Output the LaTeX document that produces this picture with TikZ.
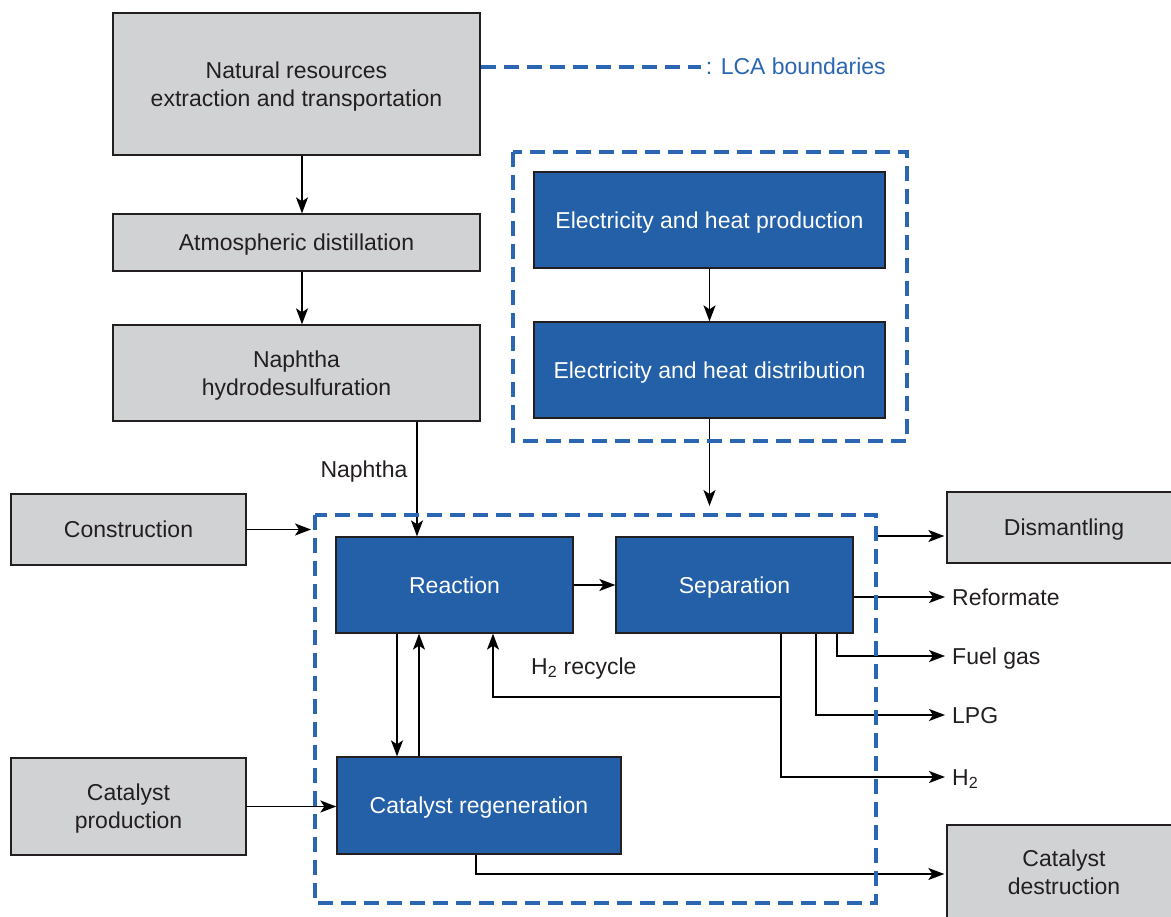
\documentclass[tikz,border=0pt]{standalone}
\usepackage{fontspec}
\setmainfont{Liberation Sans}
\usetikzlibrary{arrows.meta}
\definecolor{grayfill}{HTML}{D1D2D4}
\definecolor{bluefill}{HTML}{2360A8}
\definecolor{lcablue}{HTML}{2B66B2}
\definecolor{txtcol}{HTML}{231F20}
\begin{document}
\begin{tikzpicture}[x=1pt,y=-1pt, font=\fontsize{23}{28}\selectfont,
 graybox/.style={draw=txtcol, line width=1.3pt, fill=grayfill, text=txtcol, align=center, inner sep=0pt, text depth=0pt},
 bluebox/.style={draw=txtcol, line width=1.3pt, fill=bluefill, text=white, align=center, inner sep=0pt, text depth=0pt},
 lca/.style={draw=lcablue, line width=3.8pt, dash pattern=on 15pt off 8pt},
 flow/.style={draw=black, line width=1.6pt, -{Stealth[length=16pt,width=12pt,inset=4pt]}},
 lbl/.style={text=txtcol, inner sep=0pt, text height=20pt, text depth=4pt},
 area/.style={inner sep=0pt, outer sep=0pt}]
\useasboundingbox (0,0) rectangle (1171,917);

% boundary helpers (drawn later)
\node[area, minimum width=394pt, minimum height=289pt] (lca1) at (710,296.5) {};
\node[area, minimum width=561pt, minimum height=388pt] (lca2) at (595.5,709) {};

% boxes
\node[graybox, minimum width=367pt, minimum height=142pt] (nat) at (296.5,84) {Natural resources\\extraction and transportation};
\node[graybox, minimum width=367pt, minimum height=57pt] (atm) at (296.5,242.5) {Atmospheric distillation};
\node[graybox, minimum width=367pt, minimum height=96pt] (nap) at (296.5,373) {Naphtha\\hydrodesulfuration};
\node[bluebox, minimum width=351pt, minimum height=96pt] (ep) at (709.5,220) {Electricity and heat production};
\node[bluebox, minimum width=351pt, minimum height=96pt] (ed) at (709.5,370) {Electricity and heat distribution};
\node[graybox, minimum width=235pt, minimum height=71pt] (con) at (128.5,529.5) {Construction};
\node[bluebox, minimum width=237pt, minimum height=96pt] (rea) at (454.5,585) {Reaction};
\node[bluebox, minimum width=237pt, minimum height=96pt] (sep) at (734.5,585) {Separation};
\node[bluebox, minimum width=284pt, minimum height=97pt] (cr) at (479,805.5) {Catalyst regeneration};
\node[graybox, minimum width=235pt, minimum height=97pt] (cp) at (128.5,806.5) {Catalyst\\production};
\node[graybox, minimum width=234pt, minimum height=71pt] (dis) at (1064,527.5) {Dismantling};
\node[graybox, minimum width=234pt, minimum height=94pt] (cd) at (1064,872) {Catalyst\\destruction};

% labels
\node[lbl] (naptxt) at (364,469) {Naphtha};
\node[lbl, anchor=west] (rectxt) at (531,666) {H\textsubscript{2} recycle};
\node[lbl, anchor=west] (ref) at (952,597) {Reformate};
\node[lbl, anchor=west] (fuel) at (952,656) {Fuel gas};
\node[lbl, anchor=west] (lpg) at (952,715) {LPG};
\node[lbl, anchor=west] (hh) at (952,777) {H\textsubscript{2}};

% connectors
\draw[flow] ([xshift=5.5pt]nat.south) -- ([xshift=5.5pt]atm.north);
\draw[flow] ([xshift=5.5pt]atm.south) -- ([xshift=5.5pt]nap.north);
\draw[flow] ([xshift=120.5pt]nap.south) -- ([xshift=120.5pt]nap.south |- rea.north);
\draw[flow] (ep.south) -- (ed.north);
\draw[flow] (ed.south) -- ([yshift=9pt]ed.south |- lca2.north);
\draw[flow] (con.east) -- ([xshift=-4pt]con.east -| lca2.west);
\draw[flow] (cp.east) -- (cp.east -| cr.west);
\draw[flow] (rea.east) -- (sep.west);
\draw[flow] ([xshift=-57.5pt]rea.south) -- ([xshift=-57.5pt]rea.south |- cr.north);
\draw[flow] ([xshift=-35.5pt]rea.south |- cr.north) -- ([xshift=-35.5pt]rea.south);
\coordinate (rj) at (781,697);
\draw[flow] ([xshift=46.5pt]sep.south) -- (rj) -| ([xshift=38.5pt]rea.south);
\draw[flow] (rj) |- ([xshift=-7pt]hh.west);
\draw[flow] ([xshift=81.5pt]sep.south) |- ([xshift=-7pt]lpg.west);
\draw[flow] ([xshift=102.5pt]sep.south) |- ([xshift=-7pt]fuel.west);
\draw[flow] ([yshift=-12pt]sep.east) -- ([xshift=-7pt]ref.west);
\draw[flow] ([yshift=-8.5pt]dis.west -| lca2.east) -- ([yshift=-8.5pt,xshift=-2pt]dis.west);
\draw[flow] ([xshift=-3pt]cr.south) |- ([yshift=-2pt,xshift=-2pt]cd.west);

% boundaries
\draw[lca] (lca1.north west) rectangle (lca1.south east);
\draw[lca] (lca2.north west) rectangle (lca2.south east);

% legend
\draw[lca] ([yshift=17pt]nat.east) -- ++(220,0) coordinate (legend);
\node[inner sep=0pt, anchor=west, text=lcablue, text height=20pt, text depth=4pt] (legtxt) at ([xshift=5pt]legend) {: LCA boundaries};
\end{tikzpicture}
\end{document}
